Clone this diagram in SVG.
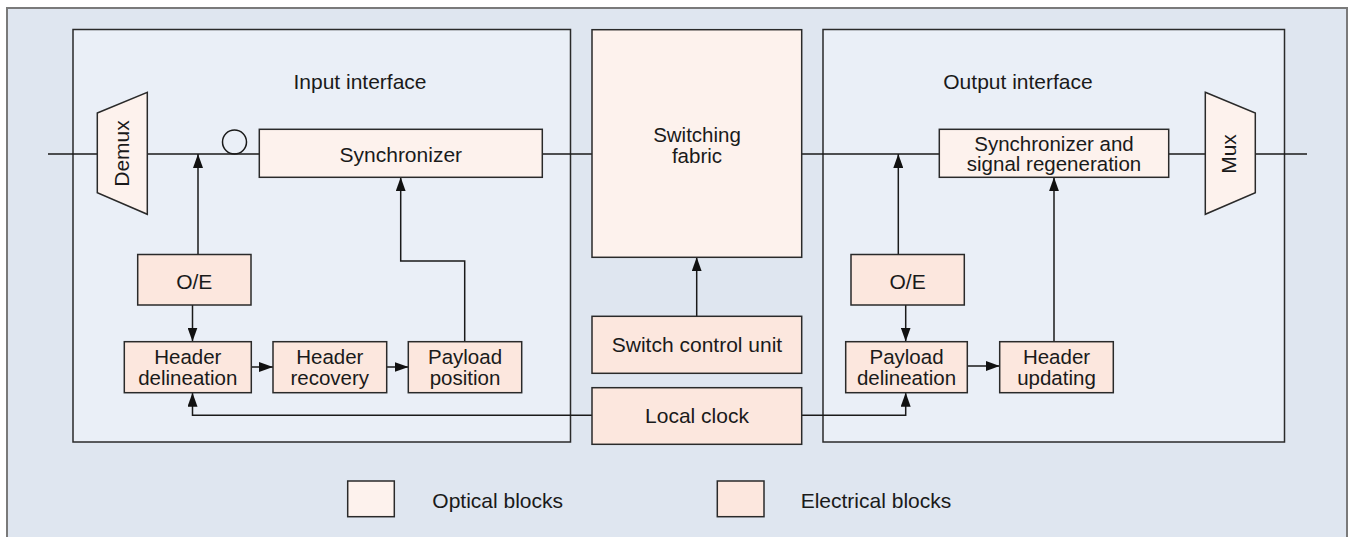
<svg xmlns="http://www.w3.org/2000/svg" width="1351" height="537" viewBox="0 0 1351 537">
<defs>
<marker id="ah" viewBox="0 0 14 10" refX="14" refY="5" markerWidth="14" markerHeight="10" markerUnits="userSpaceOnUse" orient="auto">
<path d="M0,0 L14,5 L0,10 Z" fill="#111"/>
</marker>
<style>
.frame{fill:#dfe6f0;stroke:#7a7a7a;stroke-width:2}
.iface{fill:#eaeff7;stroke:#2a2a2a;stroke-width:1.5}
.opt{fill:#fdf2ed;stroke:#2a2a2a;stroke-width:1.5}
.ele{fill:#fce7de;stroke:#2a2a2a;stroke-width:1.5}
.ln{fill:none;stroke:#1a1a1a;stroke-width:1.5}
.ar{fill:none;stroke:#1a1a1a;stroke-width:1.5;marker-end:url(#ah)}
text{font-family:"Liberation Sans",Arial,sans-serif;font-size:21px;fill:#1a1a1a;text-anchor:middle}
.two{font-size:20.5px}
.st{text-anchor:start}
</style>
</defs>
<rect class="frame" x="7" y="8" width="1340" height="545"/>
<g id="input-interface">
<rect class="iface" x="73" y="29.5" width="497.5" height="412.5"/>
<text x="360" y="89">Input interface</text>
</g>
<g id="output-interface">
<rect class="iface" x="823" y="29.5" width="461.5" height="412.5"/>
<text x="1018" y="89">Output interface</text>
</g>
<g id="connectors">
<path class="ln" d="M48,154 H97"/>
<path class="ln" d="M147,154 H259"/>
<path class="ln" d="M542,154 H592"/>
<path class="ln" d="M802,154 H939"/>
<path class="ln" d="M1169,154 H1205"/>
<path class="ln" d="M1255,154 H1307"/>
<path class="ar" d="M198,254.5 V154"/>
<path class="ar" d="M192.5,305 V341.5"/>
<path class="ar" d="M251.5,367 H273"/>
<path class="ar" d="M386.5,367 H408.5"/>
<path class="ar" d="M464.7,341.5 V261 H400.7 V177.3"/>
<path class="ar" d="M696.7,316.3 V257.3"/>
<path class="ar" d="M592,415.3 H192.5 V392.7"/>
<path class="ar" d="M801.7,415.3 H905.7 V392.7"/>
<path class="ar" d="M898.3,254.5 V154"/>
<path class="ar" d="M905.7,305 V341.5"/>
<path class="ar" d="M967.3,366 H999.7"/>
<path class="ar" d="M1054,341.5 V177.3"/>
</g>
<g id="demux">
<path class="opt" d="M97.3,113 L147.3,92.3 L147.3,214.3 L97.3,192.7 Z"/>
<text transform="translate(129,153.5) rotate(-90)">Demux</text>
</g>
<g id="delay">
<circle cx="234.5" cy="142" r="12" fill="none" stroke="#1a1a1a" stroke-width="1.5"/>
</g>
<g id="synchronizer">
<rect class="opt" x="259.3" y="129.3" width="283" height="48"/>
<text x="400.8" y="161.5">Synchronizer</text>
</g>
<g id="switching-fabric">
<rect class="opt" x="592" y="29.7" width="209.7" height="227.6"/>
<text class="two" x="697" y="142">Switching</text>
<text class="two" x="697" y="163">fabric</text>
</g>
<g id="sync-regen">
<rect class="opt" x="939.3" y="129.3" width="229.4" height="48"/>
<text class="two" x="1054" y="150.5">Synchronizer and</text>
<text class="two" x="1054" y="171">signal regeneration</text>
</g>
<g id="mux">
<path class="opt" d="M1205.3,92.3 L1255.3,113 L1255.3,192.7 L1205.3,214.3 Z"/>
<text transform="translate(1236,154) rotate(-90)">Mux</text>
</g>
<g id="oe-in">
<rect class="ele" x="137.7" y="254.5" width="113.3" height="50.5"/>
<text x="194.3" y="289">O/E</text>
</g>
<g id="header-delineation">
<rect class="ele" x="124.3" y="341.7" width="127" height="51"/>
<text class="two" x="187.8" y="363.5">Header</text>
<text class="two" x="187.8" y="384.5">delineation</text>
</g>
<g id="header-recovery">
<rect class="ele" x="273" y="341.7" width="113.7" height="51"/>
<text class="two" x="329.8" y="363.5">Header</text>
<text class="two" x="329.8" y="384.5">recovery</text>
</g>
<g id="payload-position">
<rect class="ele" x="408.3" y="341.7" width="113.4" height="51"/>
<text class="two" x="465" y="363.5">Payload</text>
<text class="two" x="465" y="384.5">position</text>
</g>
<g id="switch-control-unit">
<rect class="ele" x="592" y="316.3" width="209.7" height="57"/>
<text x="697" y="351.5">Switch control unit</text>
</g>
<g id="local-clock">
<rect class="ele" x="592" y="387.7" width="209.7" height="56.6"/>
<text x="697" y="423">Local clock</text>
</g>
<g id="oe-out">
<rect class="ele" x="851" y="254.5" width="113.3" height="50.5"/>
<text x="907.6" y="289">O/E</text>
</g>
<g id="payload-delineation">
<rect class="ele" x="845.7" y="341.7" width="121.6" height="51"/>
<text class="two" x="906.5" y="363.5">Payload</text>
<text class="two" x="906.5" y="384.5">delineation</text>
</g>
<g id="header-updating">
<rect class="ele" x="999.7" y="341.7" width="113.6" height="51"/>
<text class="two" x="1056.5" y="363.5">Header</text>
<text class="two" x="1056.5" y="384.5">updating</text>
</g>
<g id="legend">
<rect class="opt" x="347.7" y="481" width="46.6" height="35.7"/>
<text class="st" x="432.3" y="507.5">Optical blocks</text>
<rect class="ele" x="717.3" y="481" width="46.7" height="35.7"/>
<text class="st" x="800.7" y="507.5">Electrical blocks</text>
</g>
</svg>
